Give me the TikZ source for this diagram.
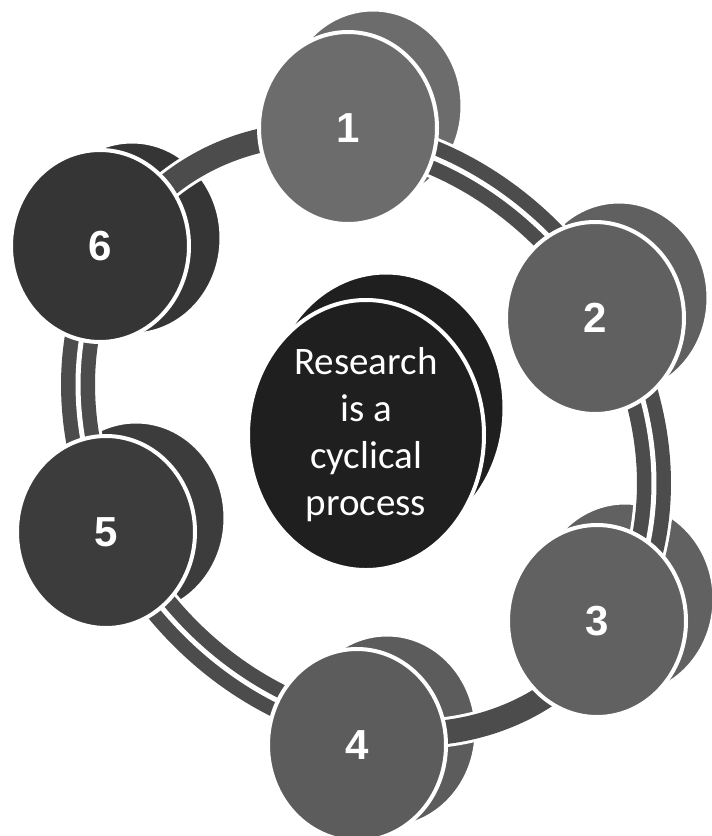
\documentclass[tikz,border=0pt]{standalone}
\usepackage{fontspec}
\newfontfamily\numfont{Liberation Sans}
\newfontfamily\labelfont{Carlito}
\usetikzlibrary{shapes.geometric}

\definecolor{ringgray}{HTML}{4C4C4C}
\definecolor{discone}{HTML}{6C6C6C}
\definecolor{disctwo}{HTML}{606060}
\definecolor{discthree}{HTML}{616161}
\definecolor{discfour}{HTML}{5C5C5C}
\definecolor{discfive}{HTML}{3C3C3C}
\definecolor{discsix}{HTML}{353535}
\definecolor{hubgray}{HTML}{1F1F1F}

\begin{document}
\begin{tikzpicture}[
  x=1pt, y=-1pt,
  back/.style={ellipse, draw=white, line width=3pt, minimum width=178pt, minimum height=192pt, inner sep=0pt},
  face/.style={back, line width=4pt, text=white, font=\numfont\bfseries\fontsize{42}{42}\selectfont},
  ringedge/.style={draw=white, line width=#1},
  ringband/.style={draw=ringgray, line width=#1},
  ringgap/.style={draw=white, line width=5pt},
]
  \useasboundingbox (0,0) rectangle (712,836);
  \coordinate (ringc) at (366,434);
  \coordinate (hubc) at (366,435);
  \coordinate (p1) at (348,128);
  \coordinate (p2) at (595,318);
  \coordinate (p3) at (597,621);
  \coordinate (p4) at (357,745);
  \coordinate (p5) at (106,532);
  \coordinate (p6) at (100,246);

  % back sides of the discs
  \node[back, fill=discone] (b1) at ([shift={(25,-22)}]p1) {};
  \node[back, fill=disctwo] (b2) at ([shift={(24,-20)}]p2) {};
  \node[back, fill=discthree] (b3) at ([shift={(28,-22)}]p3) {};
  \node[back, fill=discfour] (b4) at ([shift={(30,-14)}]p4) {};
  \node[back, fill=discfive] (b5) at ([shift={(30,-14)}]p5) {};
  \node[back, fill=discsix] (b6) at ([shift={(32,-8)}]p6) {};
  \node[back, fill=hubgray, minimum width=236pt, minimum height=270pt] (hb) at ([shift={(20,-27)}]hubc) {};

  % the ring
  \begin{scope}[shift={(ringc)}, rotate=-52]
    \draw[ringedge=40pt] (214:318 and 268) arc[start angle=214, end angle=344, x radius=318, y radius=268];
    \draw[ringedge=40pt] (40:318 and 268) arc[start angle=40, end angle=163, x radius=318, y radius=268];
    \draw[ringedge=30pt] (-16:318 and 268) arc[start angle=-16, end angle=40, x radius=318, y radius=268];
    \draw[ringedge=30pt] (163:318 and 268) arc[start angle=163, end angle=214, x radius=318, y radius=268];
    \draw[ringband=34pt] (214:318 and 268) arc[start angle=214, end angle=344, x radius=318, y radius=268];
    \draw[ringband=34pt] (40:318 and 268) arc[start angle=40, end angle=163, x radius=318, y radius=268];
    \draw[ringband=24pt] (-16:318 and 268) arc[start angle=-16, end angle=40, x radius=318, y radius=268];
    \draw[ringband=24pt] (163:318 and 268) arc[start angle=163, end angle=214, x radius=318, y radius=268];
    \draw[ringgap] (214:318 and 268) arc[start angle=214, end angle=344, x radius=318, y radius=268];
    \draw[ringgap] (40:318 and 268) arc[start angle=40, end angle=163, x radius=318, y radius=268];
  \end{scope}

  % front faces
  \node[face, fill=discone] (d1) at (p1) {1};
  \node[face, fill=disctwo] (d2) at (p2) {2};
  \node[face, fill=discthree] (d3) at (p3) {3};
  \node[face, fill=discfour] (d4) at (p4) {4};
  \node[face, fill=discfive] (d5) at (p5) {5};
  \node[face, fill=discsix] (d6) at (p6) {6};
  \node[face, fill=hubgray, minimum width=236pt, minimum height=270pt, align=center,
    font=\labelfont\fontsize{39}{47}\selectfont] (hub) at (hubc) {Research\\is a\\cyclical\\process};
\end{tikzpicture}
\end{document}
